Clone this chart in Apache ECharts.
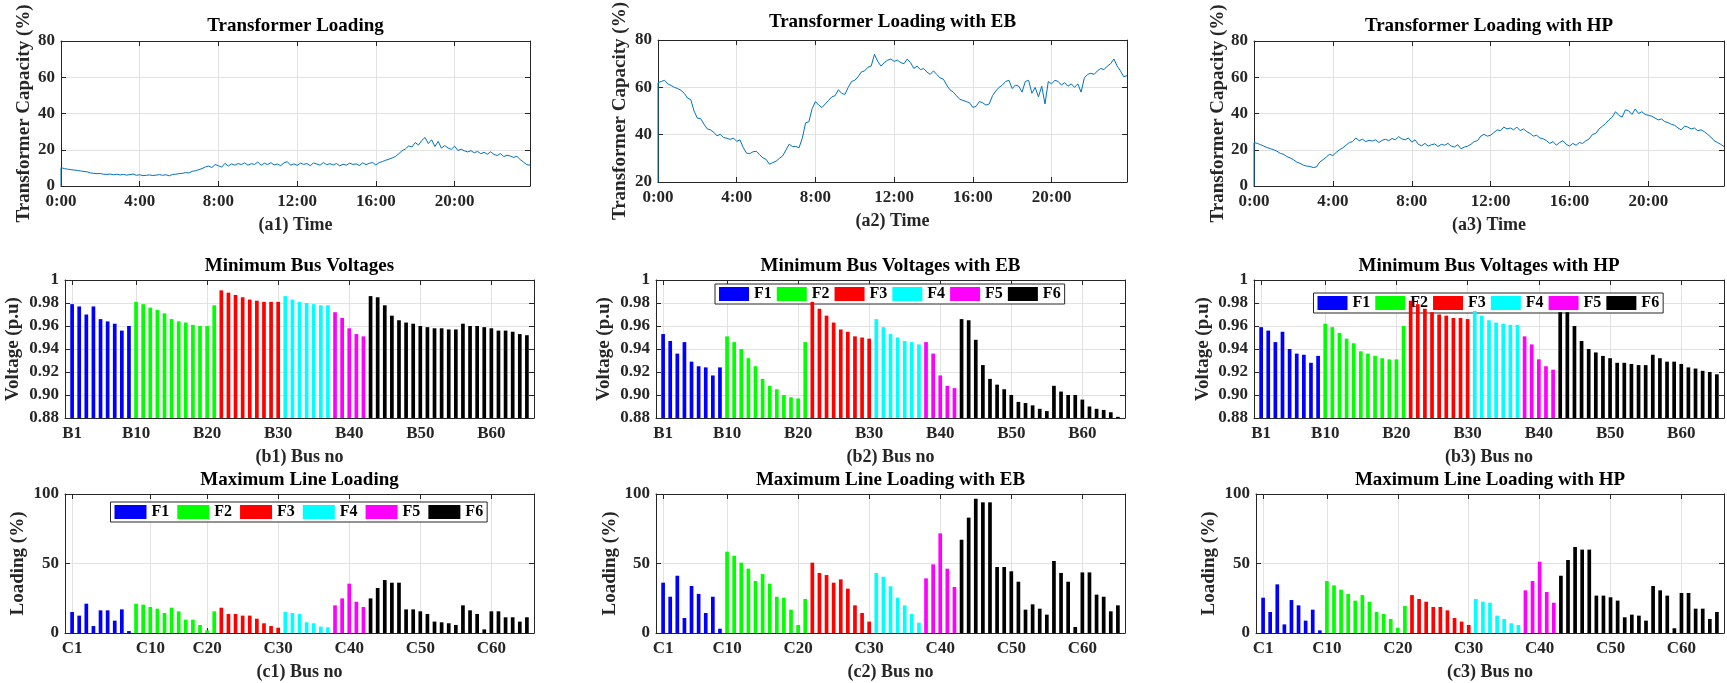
<!DOCTYPE html>
<html><head><meta charset="utf-8">
<script src="https://cdn.jsdelivr.net/npm/echarts@6/dist/echarts.min.js"></script>
<style>html,body{margin:0;padding:0;background:#fff}#c{width:1727px;height:683px}</style>
</head><body><div id="c"></div>
<script>
// ---------------- DATA ----------------
const timeStepMin = 10;                       // one reading every 10 minutes, 0:00 .. 23:50
const timeTicks = [0, 240, 480, 720, 960, 1200];
const timeTickLabels = ['0:00', '4:00', '8:00', '12:00', '16:00', '20:00'];

// Transformer loading (%), 144 readings
const loadBase = [
 10.2,9.6,9.3,9.0,8.8,8.6, 8.3,8.0,7.8,7.2,7.0,6.8, 6.9,6.5,6.4,6.6,6.2,6.5, 6.1,6.4,6.0,6.3,6.6,5.9,
 6.2,5.7,5.9,6.1,5.8,6.0, 6.3,5.9,6.2,5.6,6.4,6.5, 6.8,7.0,7.4,7.2,8.1,8.4, 9.0,9.6,10.5,11.0,10.2,11.8,
 11.2,10.4,12.5,11.0,12.2,11.5, 12.4,11.8,12.8,11.5,12.3,11.9, 13.2,11.4,12.6,11.8,12.9,11.6, 12.1,11.2,12.8,13.4,11.5,12.2,
 11.4,12.6,11.9,12.4,11.2,12.7, 12.1,11.5,12.9,11.8,12.3,11.6, 12.4,11.1,12.0,11.5,12.6,11.9, 12.2,11.3,12.8,11.8,12.5,13.0,
 11.6,12.9,13.5,14.2,14.8,15.5, 16.3,17.8,19.5,20.4,22.1,21.5, 24.0,22.6,25.1,26.8,23.4,25.5, 21.8,24.6,20.9,22.3,21.0,20.2,
 22.0,19.6,20.3,19.4,18.8,19.5, 18.3,19.1,17.8,18.6,17.5,18.9, 17.4,16.8,17.9,16.2,17.0,16.5, 15.8,16.4,14.6,13.2,11.8,11.5];
const loadEB = [
 62.0,62.5,63.0,61.5,60.8,60.0, 59.5,58.8,57.5,55.5,54.8,50.0, 47.0,46.8,44.5,42.5,42.0,41.0, 39.5,40.2,38.8,38.5,38.0,38.6,
 37.2,37.8,34.5,32.2,32.0,32.8, 33.0,31.5,30.2,29.5,27.5,28.2, 28.8,30.0,31.0,33.5,36.0,35.0, 35.0,34.5,38.5,45.0,45.5,51.0,
 54.0,52.5,51.5,53.0,54.5,56.0, 56.5,59.0,57.5,57.0,60.0,62.5, 63.0,64.5,66.5,67.0,68.5,69.0, 74.0,71.0,69.0,70.5,71.5,72.0,
 71.0,71.5,70.5,70.0,72.0,70.5, 68.0,69.0,67.5,68.0,66.5,65.5, 67.0,65.5,64.0,63.5,61.0,59.0, 58.0,56.5,55.0,54.5,54.0,53.5,
 51.5,52.0,54.0,53.5,52.5,53.0, 56.5,58.5,60.0,61.0,62.5,63.0, 59.5,61.0,60.5,58.0,62.5,63.0, 57.5,60.0,56.0,60.5,53.0,62.5,
 61.5,63.0,62.5,61.0,62.0,60.5, 61.5,60.0,61.5,58.0,64.0,65.5, 66.0,65.5,67.0,68.0,67.5,69.0, 70.0,72.0,69.0,67.0,64.5,65.0];
const loadHP = [
 24.0,23.5,22.8,22.0,21.2,20.6, 20.0,19.2,18.0,17.5,16.2,15.5, 14.5,13.2,12.5,11.5,11.0,10.8, 10.2,10.5,13.2,14.5,16.0,17.5,
 16.8,18.5,20.0,21.0,22.5,24.0, 24.5,26.5,25.0,25.8,24.5,25.2, 24.8,25.5,24.0,25.2,25.8,25.0, 26.2,25.5,27.2,26.0,25.5,26.5,
 24.2,25.5,23.0,22.2,23.5,22.0, 22.8,23.2,21.8,23.0,22.5,23.5, 22.0,21.5,22.8,20.5,21.5,22.0, 23.0,24.5,25.0,27.5,28.5,27.5,
 28.0,29.5,31.0,30.5,32.5,31.5, 32.0,31.0,32.5,30.5,31.5,30.0, 29.0,27.5,28.0,26.5,26.0,25.0, 23.5,24.5,22.5,24.0,25.0,23.0,
 22.0,23.5,22.5,24.0,23.5,25.0, 26.0,28.5,29.0,31.5,33.0,34.5, 36.5,38.0,41.0,39.0,38.0,42.0, 41.5,39.5,42.5,40.0,41.0,39.5,
 39.0,38.5,37.5,36.5,37.0,35.5, 35.0,34.0,33.5,32.0,31.0,33.0, 32.5,31.5,32.0,30.5,31.0,30.0, 28.5,27.0,25.0,24.0,23.0,21.8];
// value logged at the very first instant (line drops to it at 0:00)
const loadFirst = [0, 0, 0];

// Feeders
const feederNames = ['F1', 'F2', 'F3', 'F4', 'F5', 'F6'];
const feederSizes = [9, 12, 9, 7, 5, 23];
const feederColors = ['#0000ff', '#00ff00', '#ff0000', '#00ffff', '#ff00ff', '#000000'];

// Minimum bus voltages (p.u), buses B1..B65
const voltBase = [0.979,0.977,0.970,0.977,0.966,0.964,0.962,0.956,0.960,
 0.981,0.979,0.976,0.974,0.971,0.966,0.964,0.963,0.961,0.960,0.960,0.978,
 0.991,0.989,0.987,0.985,0.983,0.982,0.981,0.981,0.981,
 0.986,0.983,0.981,0.980,0.979,0.978,0.978,
 0.972,0.967,0.958,0.953,0.951,
 0.986,0.985,0.978,0.969,0.965,0.963,0.962,0.960,0.959,0.958,0.958,0.957,0.957,0.962,0.960,0.960,0.959,0.958,0.956,0.956,0.955,0.953,0.952];
const voltEB = [0.953,0.947,0.936,0.946,0.929,0.925,0.924,0.917,0.924,
 0.951,0.946,0.940,0.932,0.925,0.914,0.908,0.905,0.900,0.898,0.897,0.946,
 0.981,0.975,0.969,0.963,0.957,0.955,0.951,0.950,0.949,
 0.966,0.959,0.953,0.950,0.947,0.946,0.944,
 0.946,0.936,0.917,0.908,0.906,
 0.966,0.965,0.948,0.926,0.914,0.909,0.905,0.900,0.894,0.893,0.891,0.888,0.886,0.908,0.903,0.900,0.900,0.896,0.890,0.888,0.887,0.885,0.881];
const voltHP = [0.959,0.956,0.946,0.955,0.940,0.936,0.935,0.928,0.934,
 0.962,0.959,0.954,0.949,0.945,0.938,0.936,0.934,0.932,0.931,0.931,0.960,
 0.982,0.979,0.975,0.972,0.970,0.969,0.967,0.967,0.966,
 0.973,0.969,0.965,0.963,0.962,0.961,0.961,
 0.951,0.944,0.931,0.925,0.922,
 0.972,0.972,0.960,0.947,0.940,0.937,0.934,0.932,0.928,0.928,0.927,0.926,0.926,0.935,0.932,0.929,0.929,0.927,0.924,0.923,0.921,0.920,0.918];

// Maximum line loading (%), lines C1..C65
const lineBase = [15.1,12.5,21.1,5.0,16.3,16.3,8.9,17.0,1.4,
 21.1,20.4,18.7,17.5,14.4,18.2,15.6,9.6,9.6,5.8,1.9,15.6,
 18.2,13.7,13.7,12.5,12.5,10.3,7.0,5.0,3.8,
 15.1,14.4,13.7,7.7,7.0,4.6,4.1,
 19.9,24.9,35.5,22.5,18.7,
 24.9,32.4,38.1,36.2,36.2,17.0,17.0,15.6,13.7,8.2,7.7,7.0,5.8,19.9,16.3,13.7,2.6,15.6,15.6,11.3,11.3,8.2,11.3];
const lineEB = [36.2,26.1,41.2,10.8,33.8,28.1,14.4,26.1,3.1,
 58.5,55.6,50.6,46.3,37.4,42.4,35.5,26.1,25.4,16.8,5.8,24.5,
 50.6,43.2,41.7,36.2,38.6,31.9,19.9,14.4,8.2,
 43.2,40.5,33.6,25.4,19.9,13.7,7.4,
 39.3,49.4,71.7,46.3,33.1,
 67.1,83.0,96.6,94.0,94.0,47.5,47.5,44.4,36.9,16.8,20.6,17.5,13.2,51.8,43.2,36.9,4.3,43.6,43.6,27.6,26.1,15.6,19.9];
const lineHP = [25.4,15.1,35.0,6.2,23.7,19.9,8.9,16.8,1.9,
 37.4,34.3,31.2,28.1,23.3,27.3,22.5,15.1,13.7,10.1,3.8,19.4,
 27.3,24.5,22.5,18.7,18.7,16.3,10.8,8.2,5.8,
 24.5,22.5,21.8,12.5,10.1,7.0,5.8,
 30.7,37.4,51.3,29.5,21.8,
 41.2,52.5,61.9,60.0,60.0,26.9,26.9,25.7,23.3,11.3,13.2,12.5,8.9,33.8,30.7,26.9,3.4,28.8,28.8,17.5,17.5,10.1,15.1];

// tick positions / labels for the bus and line axes
const busTicks = [1, 10, 20, 30, 40, 50, 60];
const busTickLabels = ['B1', 'B10', 'B20', 'B30', 'B40', 'B50', 'B60'];
const lineTicksC1 = [1, 12, 20, 30, 40, 50, 60];
const lineTicks = [1, 10, 20, 30, 40, 50, 60];
const lineTickLabels = ['C1', 'C10', 'C20', 'C30', 'C40', 'C50', 'C60'];

// ---------------- LAYOUT ----------------
const FONT = 'Liberation Serif';
const AX = '#262626';
const GRIDC = '#e2e2e2';
const panels = [
 {kind:'line', L:61,  T:41, R:530,  B:186, title:'Transformer Loading',        tY:27,  xname:'(a1) Time', yname:'Transformer Capacity (%)', yCx:24,   vals:loadBase, first:loadFirst[0], ymin:0,  ymax:80, yint:20},
 {kind:'line', L:658, T:36, R:1127, B:182, title:'Transformer Loading with EB', tY:23,  xname:'(a2) Time', yname:'Transformer Capacity (%)', yCx:620,  vals:loadEB,   first:loadFirst[1], ymin:20, ymax:80, yint:20},
 {kind:'line', L:1254,T:41, R:1724, B:186, title:'Transformer Loading with HP', tY:27,  xname:'(a3) Time', yname:'Transformer Capacity (%)', yCx:1220, vals:loadHP,   first:loadFirst[2], ymin:0,  ymax:80, yint:20},
 {kind:'bar',  L:65,  T:280,R:534,  B:418, title:'Minimum Bus Voltages',         tY:267, xname:'(b1) Bus no', yname:'Voltage (p.u)', yCx:13,   vals:voltBase, ymin:0.88, ymax:1, yint:0.02, ticks:busTicks, labels:busTickLabels},
 {kind:'bar',  L:656, T:280,R:1125, B:418, title:'Minimum Bus Voltages with EB', tY:267, xname:'(b2) Bus no', yname:'Voltage (p.u)', yCx:604,  vals:voltEB,   ymin:0.88, ymax:1, yint:0.02, ticks:busTicks, labels:busTickLabels, legendTop:284, legendGap:5, legendIcon:30},
 {kind:'bar',  L:1254,T:280,R:1724, B:418, title:'Minimum Bus Voltages with HP', tY:267, xname:'(b3) Bus no', yname:'Voltage (p.u)', yCx:1203, vals:voltHP,   ymin:0.88, ymax:1, yint:0.02, ticks:busTicks, labels:busTickLabels, legendTop:293, legendGap:5, legendIcon:30},
 {kind:'bar',  L:65,  T:494,R:534,  B:633, title:'Maximum Line Loading',         tY:481, xname:'(c1) Bus no', yname:'Loading (%)', yCx:18,   vals:lineBase, ymin:0, ymax:100, yint:50, ticks:lineTicksC1, labels:lineTickLabels, legendTop:502, legendGap:8, legendIcon:32},
 {kind:'bar',  L:656, T:494,R:1125, B:633, title:'Maximum Line Loading with EB', tY:481, xname:'(c2) Bus no', yname:'Loading (%)', yCx:610,  vals:lineEB,   ymin:0, ymax:100, yint:50, ticks:lineTicks, labels:lineTickLabels},
 {kind:'bar',  L:1256,T:494,R:1724, B:633, title:'Maximum Line Loading with HP', tY:481, xname:'(c3) Bus no', yname:'Loading (%)', yCx:1209, vals:lineHP,   ymin:0, ymax:100, yint:50, ticks:lineTicks, labels:lineTickLabels}
];

const tickFont = {fontFamily:FONT, fontWeight:'bold', fontSize:17, color:AX};
const nameFontY = {fontFamily:FONT, fontWeight:'bold', fontSize:19, color:AX};
const nameFontX = {fontFamily:FONT, fontWeight:'bold', fontSize:18, color:AX};

const option = {animation:false, backgroundColor:'#fff', textStyle:{fontFamily:FONT},
  grid:[], xAxis:[], yAxis:[], series:[], title:[], legend:[]};

panels.forEach((p, k) => {
  const w = p.R - p.L, h = p.B - p.T;
  option.grid.push({left:p.L, top:p.T, width:w, height:h, containLabel:false, show:false});
  const isLine = p.kind === 'line';
  const xmin = 0, xmax = isLine ? (loadBase.length - 1) * timeStepMin : 66;
  const xt = isLine ? timeTicks : p.ticks;
  const xl = isLine ? timeTickLabels : p.labels;
  const fmt = v => { const i = xt.indexOf(Math.round(v)); return i >= 0 ? xl[i] : ''; };
  // bottom x axis
  option.xAxis.push({type:'value', gridIndex:k, position:'bottom', min:xmin, max:xmax,
    axisLine:{show:true, onZero:false, lineStyle:{color:AX, width:1}},
    axisTick:{show:true, inside:true, length:5, customValues:xt, lineStyle:{color:AX}},
    axisLabel:Object.assign({show:true, customValues:xt, formatter:fmt, margin:7, showMinLabel:true, showMaxLabel:true, hideOverlap:false}, tickFont),
    splitLine:{show:true, lineStyle:{color:GRIDC, width:1}},
    name:p.xname, nameLocation:'middle', nameGap:30, nameTextStyle:nameFontX});
  // top x axis (box + ticks)
  option.xAxis.push({type:'value', gridIndex:k, position:'top', min:xmin, max:xmax,
    axisLine:{show:true, onZero:false, lineStyle:{color:AX, width:1}},
    axisTick:{show:true, inside:true, length:5, customValues:xt, lineStyle:{color:AX}},
    axisLabel:{show:false}, splitLine:{show:false}});
  const yfmt = p.yint < 1 ? (v => Math.abs(v - 1) < 1e-9 ? '1' : v.toFixed(2)) : (v => String(Math.round(v)));
  option.yAxis.push({type:'value', gridIndex:k, position:'left', min:p.ymin, max:p.ymax, interval:p.yint,
    axisLine:{show:true, onZero:false, lineStyle:{color:AX, width:1}},
    axisTick:{show:true, inside:true, length:5, lineStyle:{color:AX}},
    axisLabel:Object.assign({formatter:yfmt, margin:6, showMinLabel:true, showMaxLabel:true}, tickFont),
    splitLine:{show:true, lineStyle:{color:GRIDC, width:1}},
    name:p.yname, nameLocation:'middle', nameGap:(p.L - p.yCx - 9.5), nameTextStyle:nameFontY});
  option.yAxis.push({type:'value', gridIndex:k, position:'right', min:p.ymin, max:p.ymax, interval:p.yint,
    axisLine:{show:true, onZero:false, lineStyle:{color:AX, width:1}},
    axisTick:{show:true, inside:true, length:5, lineStyle:{color:AX}},
    axisLabel:{show:false}, splitLine:{show:false}});
  option.title.push({text:p.title, left:(p.L + p.R) / 2, top:p.tY - 10, textAlign:'center', padding:0,
    textStyle:{fontFamily:FONT, fontWeight:'bold', fontSize:19, color:'#000'}});

  if (isLine) {
    const data = [[0, p.first]].concat(p.vals.map((v, i) => [i * timeStepMin, v]));
    option.series.push({type:'line', xAxisIndex:2 * k, yAxisIndex:2 * k, data:data, showSymbol:false,
      symbol:'none', clip:true, lineStyle:{color:'#0072bd', width:1}, z:3});
  } else {
    let start = 0;
    const bw = w / 66 * 0.52;
    feederSizes.forEach((n, f) => {
      const d = [];
      for (let i = start; i < start + n; i++) d.push([i + 1, p.vals[i]]);
      start += n;
      option.series.push({type:'bar', name:feederNames[f], xAxisIndex:2 * k, yAxisIndex:2 * k, data:d,
        barWidth:bw, barGap:'-100%', itemStyle:{color:feederColors[f]}, z:3, clip:true});
    });
    if (p.legendTop !== undefined) {
      const itemW = p.legendIcon + 5 + 18;
      const lw = 6 * itemW + 5 * p.legendGap + 8;
      option.legend.push({show:true, z:1, left:(p.L + p.R) / 2 - lw / 2, top:p.legendTop, orient:'horizontal',
        data:feederNames, icon:'rect', itemWidth:p.legendIcon, itemHeight:14, itemGap:p.legendGap, padding:[2, 4],
        backgroundColor:'#fff', borderColor:AX, borderWidth:1, selectedMode:false,
        textStyle:{fontFamily:FONT, fontWeight:'bold', fontSize:16, color:'#000'}});
    }
  }
});

const chart = echarts.init(document.getElementById('c'), null, {renderer:'canvas'});
chart.setOption(option);
</script></body></html>
